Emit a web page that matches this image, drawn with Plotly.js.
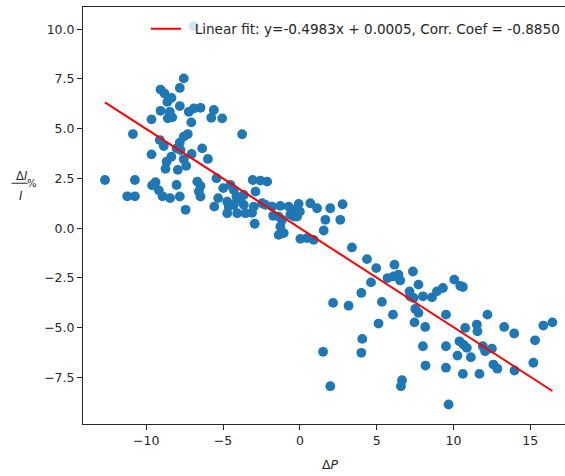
<!DOCTYPE html>
<html>
<head>
<meta charset="utf-8">
<script src="https://cdn.plot.ly/plotly-3.0.1.min.js"></script>
<style>html,body{margin:0;padding:0;background:#fff;}#chart{width:565px;height:476px;}</style>
</head>
<body>
<div id="chart"></div>
<script>
const deltaP = [
-6.90,-7.56,-7.82,-9.07,-8.81,-8.36,-8.63,-7.82,-9.07,-8.47,-8.60,-8.31,-7.23,-6.91,-6.47,-7.07,-5.60,-5.77,-5.06,-9.66,
-10.87,-9.12,-8.86,-7.56,-7.30,-7.82,-8.03,-7.77,-6.36,-7.05,-9.66,-8.37,-8.68,-7.56,-5.99,-7.40,-8.75,-7.95,-3.76,
-12.69,-10.74,-11.24,-10.74,-9.62,-9.40,-9.18,-8.94,-8.45,-8.03,-7.82,-7.44,-6.68,-6.47,-6.58,-6.47,-5.43,-4.99,-4.52,-5.32,-4.73,-4.08,
-5.57,-4.73,-4.63,-4.08,-4.13,-3.87,-3.65,-3.54,-3.65,-4.30,-4.30,-3.00,-3.11,-2.94,-3.07,-2.57,-2.13,-2.89,-2.46,-2.24,
-1.81,-1.74,-1.27,-1.16,-1.38,-1.27,-1.38,-1.05,-0.73,-0.62,-0.40,-0.40,-0.08,-0.18,0.00,0.03,0.47,0.90,0.68,1.12,
1.55,1.66,1.98,2.63,2.78,3.39,
4.37,4.97,6.16,5.71,6.10,6.42,6.53,7.36,7.72,4.63,4.00,2.16,3.17,5.34,7.14,7.18,7.40,8.01,8.60,8.92,
9.31,10.05,10.44,10.61,7.51,7.72,9.51,6.06,5.12,7.46,8.16,10.76,11.52,11.56,12.21,13.30,13.95,15.85,16.44,15.31,
4.06,4.00,8.01,9.51,10.39,10.65,10.87,11.91,12.06,12.50,10.26,11.13,1.51,8.18,9.51,10.61,11.69,12.60,12.86,13.97,
15.20,1.98,6.65,6.58,9.68
];
const deltaIpct = [
10.15,7.53,7.05,6.97,6.77,6.55,6.35,6.14,5.90,5.85,5.52,5.57,5.85,6.02,6.05,5.32,5.94,5.55,5.52,5.47,
4.73,4.43,4.13,4.60,4.73,4.30,4.01,3.93,4.01,3.73,3.71,3.59,3.34,3.46,3.48,3.13,2.98,2.93,4.72,
2.42,2.42,1.60,1.60,2.15,2.31,1.90,1.60,1.51,2.17,1.59,0.92,2.34,2.12,1.84,1.59,2.51,2.01,2.17,1.51,1.33,1.42,
1.08,0.75,1.08,0.75,1.59,1.42,1.67,0.75,1.17,1.17,1.92,1.08,0.77,0.22,2.42,2.39,2.34,1.84,1.25,1.17,
1.08,0.62,1.12,0.42,0.58,0.08,-0.34,-0.25,1.08,0.67,0.92,0.58,1.22,0.58,0.83,-0.54,-0.50,-0.59,1.25,1.00,
-0.12,0.42,1.00,0.42,1.20,-0.97,
-1.56,-2.01,-1.84,-2.51,-2.43,-2.34,-2.63,-2.18,-2.84,-2.73,-3.26,-3.76,-3.90,-3.71,-3.18,-3.43,-3.51,-3.43,-3.48,-3.18,
-3.01,-2.59,-2.90,-2.96,-4.06,-4.26,-4.35,-4.35,-4.80,-4.74,-4.97,-5.02,-4.85,-5.19,-4.35,-4.97,-5.30,-4.90,-4.74,-5.64,
-5.57,-6.27,-5.94,-5.94,-5.69,-5.86,-6.02,-5.94,-6.19,-6.06,-6.41,-6.49,-6.22,-6.91,-7.02,-7.33,-7.33,-6.86,-7.07,-7.16,
-6.77,-7.95,-7.65,-7.95,-8.87
];
const fitSlope = -0.4983;
const fitIntercept = 0.0005;
const corrCoef = -0.8850;
const xTicks = [-10, -5, 0, 5, 10, 15];
const yTicks = [-7.5, -5.0, -2.5, 0.0, 2.5, 5.0, 7.5, 10.0];

const xmin = Math.min(...deltaP), xmax = Math.max(...deltaP);
const fitX = [xmin, xmax];
const fitY = fitX.map(v => fitSlope * v + fitIntercept);

// pixel helpers (plot area: left 82.5, right 565, top 6.7, bottom 424.5)
const L = 82.5, R = 565, T = 6.7, B = 424.5;
const px = v => (v - L) / (R - L);
const py = v => (B - v) / (B - T);

const font = {family: 'DejaVu Sans, sans-serif', size: 12.5, color: '#262626'};
const legendFont = {family: 'DejaVu Sans, sans-serif', size: 13.6, color: '#262626'};
const fitLabel = '\u00a0\u00a0Linear fit: y=' + fitSlope.toFixed(4) + 'x + ' + fitIntercept.toFixed(4) + ', Corr. Coef = ' + corrCoef.toFixed(4);

const data = [
  {x: deltaP, y: deltaIpct, type: 'scatter', mode: 'markers', showlegend: false,
   marker: {color: '#1f77b4', size: 9.8}},
  {x: fitX, y: fitY, type: 'scatter', mode: 'lines', name: fitLabel,
   line: {color: '#ff0000', width: 2}}
];

const layout = {
  width: 565, height: 476,
  margin: {l: L, r: 0, t: T, b: 476 - B, pad: 0},
  paper_bgcolor: '#fff', plot_bgcolor: '#fff',
  font: font,
  showlegend: true,
  legend: {x: px(146), y: py(13), xanchor: 'left', yanchor: 'top',
           bgcolor: 'rgba(255,255,255,0.8)', borderwidth: 0, font: legendFont},
  xaxis: {range: [-14.12, 17.26], tickvals: xTicks, ticktext: xTicks.map(v => v < 0 ? '\u2212' + Math.abs(v) : String(v)),
          ticks: 'outside', ticklen: 5, tickwidth: 1, tickcolor: '#262626',
          showline: true, linecolor: '#262626', linewidth: 1, mirror: true,
          showgrid: false, zeroline: false, tickfont: font},
  yaxis: {range: [-9.85, 11.12], tickvals: yTicks, ticktext: yTicks.map(v => (v < 0 ? '\u2212' : '') + Math.abs(v).toFixed(1)),
          ticks: 'outside', ticklen: 5, tickwidth: 1, tickcolor: '#262626',
          showline: true, linecolor: '#262626', linewidth: 1, mirror: false,
          showgrid: false, zeroline: false, tickfont: font},
  shapes: [
    {type: 'line', xref: 'paper', yref: 'paper', x0: px(11), x1: px(27), y0: py(183.3), y1: py(183.3),
     line: {color: '#262626', width: 1}}
  ],
  annotations: [
    {xref: 'paper', yref: 'paper', x: px(21), y: py(176), text: '\u0394<i>I</i>', showarrow: false,
     xanchor: 'center', yanchor: 'middle', font: {family: 'DejaVu Sans', size: 11.5, color: '#262626'}},
    {xref: 'paper', yref: 'paper', x: px(20), y: py(196), text: '<i>I</i>', showarrow: false,
     xanchor: 'center', yanchor: 'middle', font: {family: 'DejaVu Sans', size: 11.5, color: '#262626'}},
    {xref: 'paper', yref: 'paper', x: px(31), y: py(184), text: '%', showarrow: false,
     xanchor: 'center', yanchor: 'middle', font: {family: 'DejaVu Sans', size: 10, color: '#262626'}},
    {xref: 'paper', yref: 'paper', x: px(330), y: py(465), text: '\u0394<i>P</i>', showarrow: false,
     xanchor: 'center', yanchor: 'middle', font: {family: 'DejaVu Sans', size: 12.5, color: '#262626'}}
  ]
};

Plotly.newPlot('chart', data, layout, {displayModeBar: false, staticPlot: true});
</script>
</body>
</html>
